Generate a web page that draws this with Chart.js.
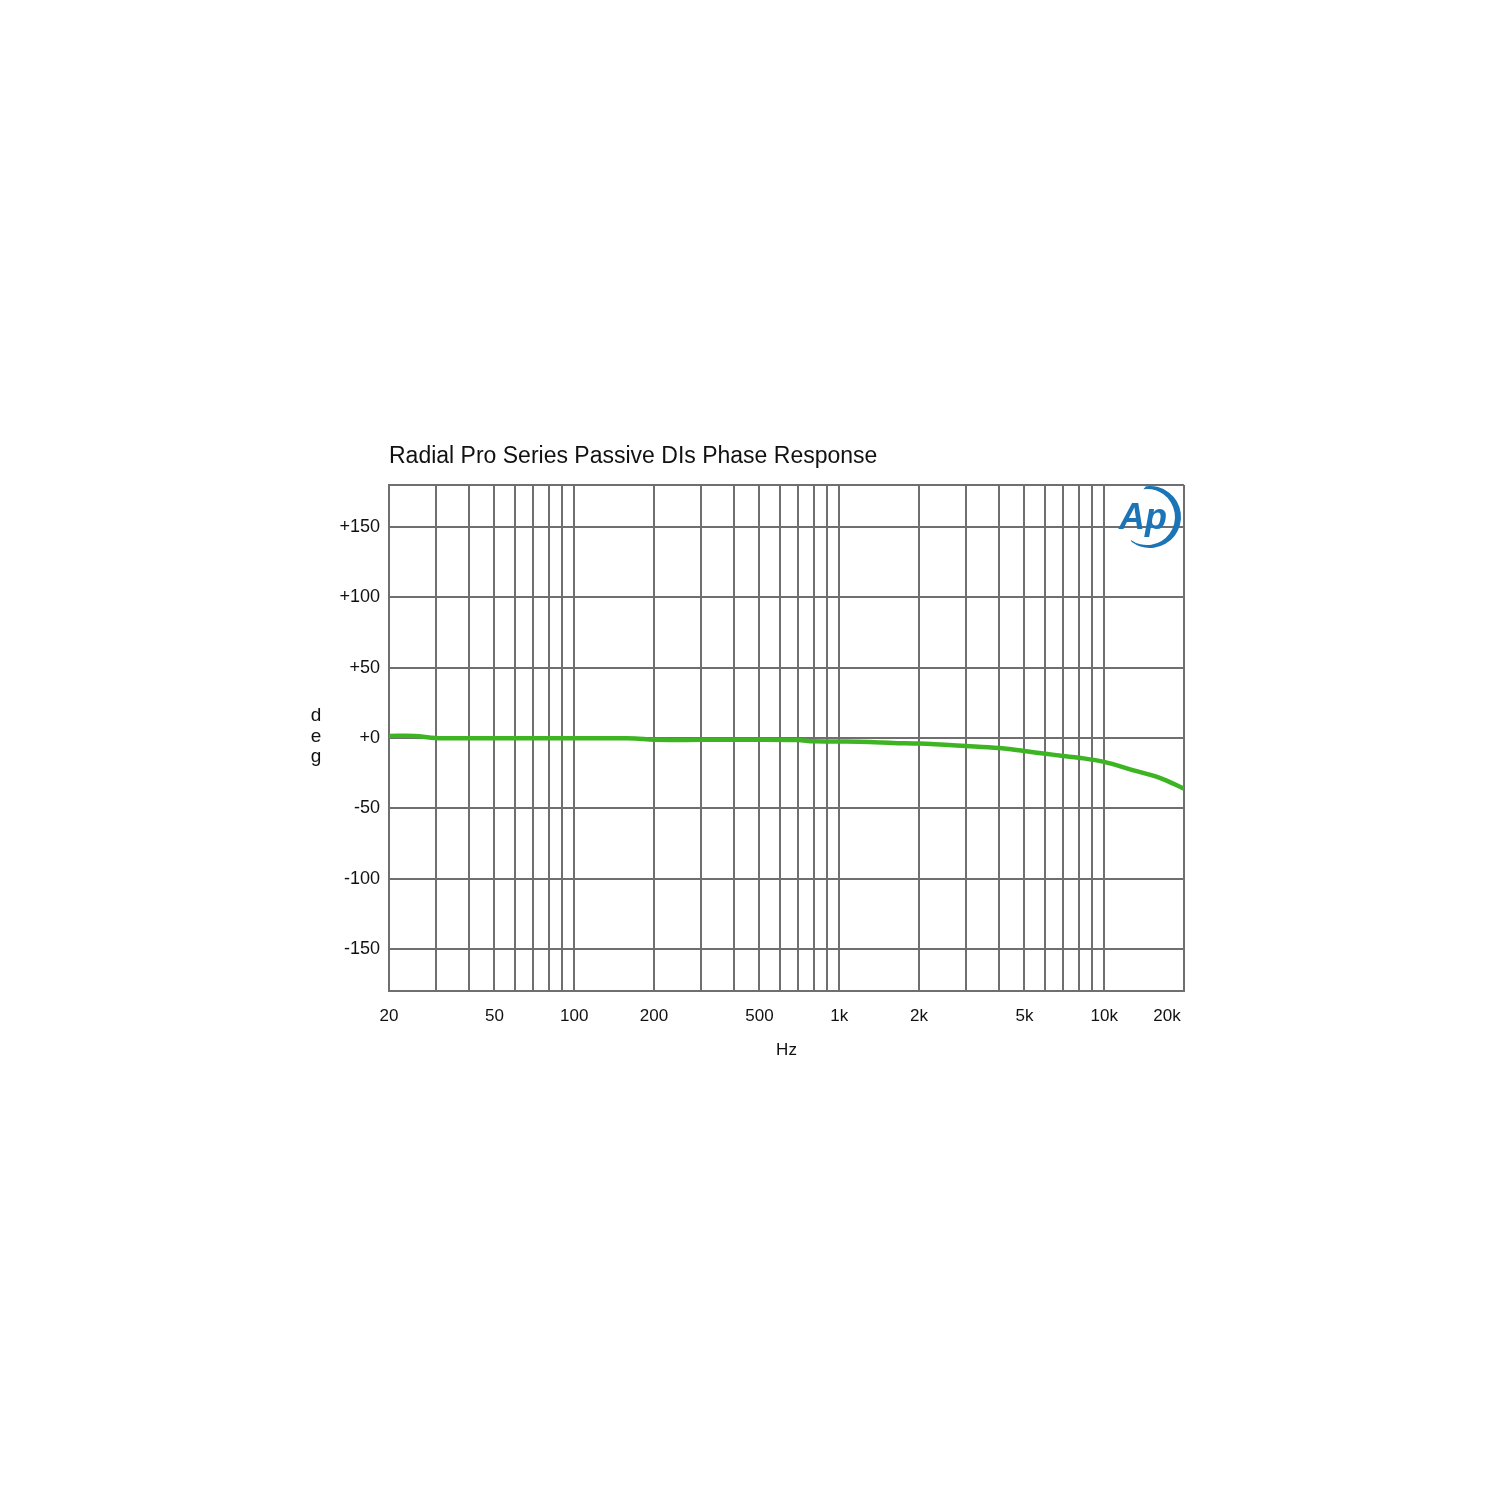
<!DOCTYPE html>
<html>
<head>
<meta charset="utf-8">
<script src="https://cdn.jsdelivr.net/npm/chart.js@4.4.1/dist/chart.umd.min.js"></script>
<style>
  html, body { margin: 0; padding: 0; background: #ffffff; }
  #wrap { position: absolute; left: 0; top: 0; width: 1500px; height: 1500px; }
</style>
</head>
<body>
<div id="wrap"><canvas id="c" width="1500" height="1500"></canvas></div>
<script>
// ---- Data ----
const chartTitle = "Radial Pro Series Passive DIs Phase Response";
const xAxisTitle = "Hz";
const yAxisTitle = "deg";
const frequencies = [20, 25, 30, 40, 50, 70, 100, 150, 170, 200, 300, 500, 700, 800, 1000, 1300, 1600, 2000, 3000, 4000, 5000, 6000, 7000, 8000, 10000, 12800, 16200, 20000];
const phaseDeg    = [1.5, 1.5, 0, -0.2, -0.2, -0.2, -0.2, -0.2, -0.3, -1.3, -1.3, -1.2, -1.5, -2.4, -2.5, -2.8, -3.6, -4.0, -5.7, -7.1, -9.3, -11.2, -12.8, -14.0, -17.0, -22.8, -28.3, -36.0];
const xGridValues = [20, 30, 40, 50, 60, 70, 80, 90, 100, 200, 300, 400, 500, 600, 700, 800, 900, 1000, 2000, 3000, 4000, 5000, 6000, 7000, 8000, 9000, 10000, 20000];
const xTickValues = [20, 50, 100, 200, 500, 1000, 2000, 5000, 10000, 20000];
const xTickLabels = ["20", "50", "100", "200", "500", "1k", "2k", "5k", "10k", "20k"];
const yGridValues = [-180, -150, -100, -50, 0, 50, 100, 150, 180];
const yTickValues = [-150, -100, -50, 0, 50, 100, 150];
const yTickLabels = ["-150", "-100", "-50", "+0", "+50", "+100", "+150"];

const FONT = "'Liberation Sans', Arial, sans-serif";
const GRID = "#6f6f6f";

const points = frequencies.map((f, i) => ({ x: f, y: phaseDeg[i] }));

// keep the last frequency label inside the frame, as in the original
const lastLabelPlugin = {
  id: 'lastLabel',
  beforeDraw(chart) {
    const items = chart.scales.x.getLabelItems();
    for (let i = items.length - 1; i >= 0; i--) {
      if (items[i].label) {
        items[i].options.translation[0] -= 17;
        break;
      }
    }
  }
};

const decorPlugin = {
  id: 'decor',
  afterDraw(chart) {
    const ctx = chart.ctx;
    const a = chart.chartArea;
    ctx.save();
    // Title
    ctx.fillStyle = '#111';
    ctx.font = "23px " + FONT;
    ctx.textAlign = 'left';
    ctx.textBaseline = 'middle';
    ctx.fillText(chartTitle, a.left, 457);
    // X title
    ctx.font = "17px " + FONT;
    ctx.textAlign = 'center';
    ctx.fillText(xAxisTitle, (a.left + a.right) / 2, 1050);
    // Y title stacked letters
    ctx.font = "19px " + FONT;
    const letters = yAxisTitle.split('');
    letters.forEach((ch, i) => ctx.fillText(ch, 316, 716 + i * 20.5));
    // Ap logo
    ctx.fillStyle = '#1b74b5';
    ctx.font = "italic bold 36px " + FONT;
    ctx.textAlign = 'left';
    ctx.textBaseline = 'alphabetic';
    ctx.fillText('Ap', 1119, 529);
    // swoosh
    ctx.beginPath();
    ctx.arc(1150, 517, 31, -1.7, 2.2);
    ctx.arc(1147, 517, 28, 2.2, -1.7, true);
    ctx.closePath();
    ctx.fill();
    ctx.restore();
  }
};

new Chart(document.getElementById('c'), {
  type: 'line',
  data: {
    datasets: [{
      data: points,
      borderColor: '#3db523',
      borderWidth: 4.5,
      pointRadius: 0,
      tension: 0.35,
      fill: false
    }]
  },
  options: {
    responsive: false,
    animation: false,
    events: [],
    layout: { padding: { left: 300, right: 316, top: 485, bottom: 439 } },
    plugins: { legend: { display: false }, title: { display: false }, tooltip: { enabled: false } },
    scales: {
      x: {
        type: 'logarithmic',
        min: 20,
        max: 20000,
        afterFit(scale) { scale.height = 70; },
        afterBuildTicks(scale) { scale.ticks = xGridValues.map(v => ({ value: v })); },
        grid: { color: GRID, lineWidth: 2, drawTicks: false },
        border: { color: GRID, width: 2 },
        ticks: {
          autoSkip: false,
          maxRotation: 0,
          padding: 15,
          color: '#111',
          font: { family: FONT, size: 17 },
          callback(value) {
            const i = xTickValues.indexOf(value);
            return i >= 0 ? xTickLabels[i] : '';
          }
        }
      },
      y: {
        type: 'linear',
        min: -180,
        max: 180,
        afterFit(scale) { scale.width = 89; },
        afterBuildTicks(scale) { scale.ticks = yGridValues.map(v => ({ value: v })); },
        grid: { color: GRID, lineWidth: 2, drawTicks: false },
        border: { color: GRID, width: 2 },
        ticks: {
          autoSkip: false,
          padding: 9,
          color: '#111',
          font: { family: FONT, size: 18 },
          callback(value) {
            const i = yTickValues.indexOf(value);
            return i >= 0 ? yTickLabels[i] : '';
          }
        }
      }
    }
  },
  plugins: [lastLabelPlugin, decorPlugin]
});
</script>
</body>
</html>
